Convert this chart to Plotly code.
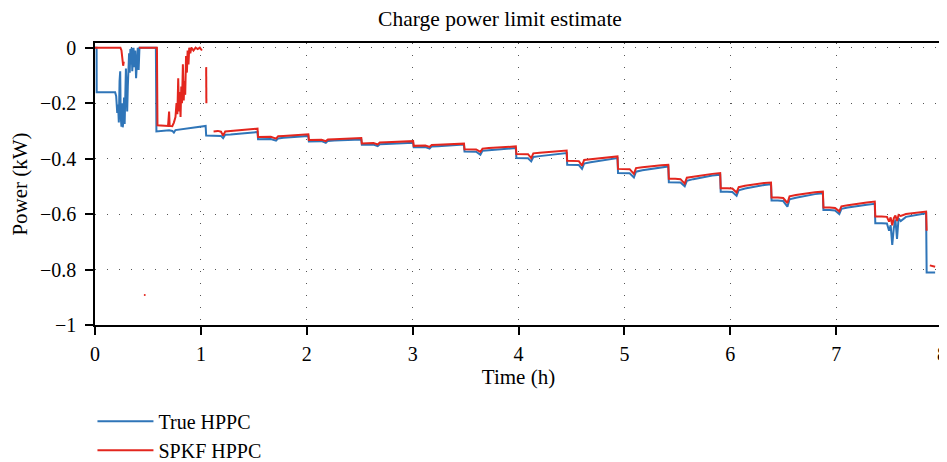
import plotly.graph_objects as go

# ---------------- data ----------------
time_true = [
    0.000, 0.015, 0.016, 0.190, 0.200, 0.210, 0.218, 0.225, 0.232, 0.238, 0.243, 0.250, 0.256, 0.262,
    0.268, 0.274, 0.280, 0.286, 0.292, 0.298, 0.304, 0.310, 0.316, 0.322, 0.328, 0.334, 0.340, 0.346,
    0.352, 0.358, 0.364, 0.372, 0.380, 0.388, 0.396, 0.404, 0.412, 0.420, 0.430, 0.575, 0.580,
    0.600, 0.650, 0.700, 0.730, 0.745, 0.760, 0.800, 0.850, 0.900, 0.950, 1.000, 1.045, 1.050,
    1.10, 1.16, 1.19, 1.21, 1.23, 1.28, 1.33, 1.38, 1.43, 1.48, 1.535, 1.54,
    1.60, 1.66, 1.71, 1.73, 1.78, 1.84, 1.90, 1.96, 2.015, 2.02,
    2.08, 2.14, 2.18, 2.20, 2.26, 2.33, 2.40, 2.46, 2.515, 2.52,
    2.58, 2.63, 2.67, 2.69, 2.75, 2.82, 2.89, 2.95, 3.005, 3.01,
    3.07, 3.12, 3.16, 3.18, 3.24, 3.30, 3.36, 3.42, 3.485, 3.49,
    3.55, 3.60, 3.64, 3.66, 3.72, 3.78, 3.84, 3.90, 3.975, 3.98,
    4.04, 4.09, 4.12, 4.14, 4.20, 4.26, 4.32, 4.38, 4.455, 4.46,
    4.52, 4.57, 4.60, 4.62, 4.68, 4.74, 4.80, 4.86, 4.935, 4.94,
    5.00, 5.05, 5.09, 5.11, 5.17, 5.23, 5.29, 5.35, 5.415, 5.42,
    5.48, 5.53, 5.57, 5.59, 5.65, 5.71, 5.77, 5.83, 5.905, 5.91,
    5.97, 6.02, 6.06, 6.08, 6.14, 6.20, 6.26, 6.32, 6.385, 6.39,
    6.45, 6.50, 6.54, 6.56, 6.62, 6.68, 6.74, 6.80, 6.875, 6.88,
    6.94, 6.99, 7.03, 7.05, 7.11, 7.17, 7.23, 7.29, 7.365, 7.37,
    7.43, 7.48, 7.50, 7.515, 7.53, 7.545, 7.56, 7.575, 7.59, 7.61, 7.66, 7.71, 7.76, 7.81, 7.85,
    7.855, 7.935,
]
power_true = [
    0.000, 0.000, -0.161, -0.161, -0.175, -0.235, -0.205, -0.270, -0.120, -0.085, -0.250, -0.285, -0.200, -0.287,
    -0.265, -0.180, -0.275, -0.110, -0.075, -0.160, -0.230, -0.140, -0.050, -0.020, -0.090, -0.005, -0.060, 0.000,
    -0.085, -0.030, 0.000, -0.070, -0.010, -0.110, -0.040, 0.000, -0.080, 0.000, 0.000, 0.000, -0.302,
    -0.301, -0.300, -0.298, -0.300, -0.306, -0.297, -0.295, -0.293, -0.290, -0.287, -0.285, -0.282, -0.317,
    -0.317, -0.316, -0.318, -0.326, -0.314, -0.313, -0.311, -0.309, -0.308, -0.306, -0.304, -0.330,
    -0.330, -0.329, -0.335, -0.327, -0.325, -0.323, -0.321, -0.319, -0.318, -0.338,
    -0.338, -0.337, -0.343, -0.336, -0.335, -0.334, -0.333, -0.332, -0.331, -0.350,
    -0.350, -0.349, -0.355, -0.348, -0.347, -0.346, -0.345, -0.344, -0.343, -0.359,
    -0.359, -0.358, -0.364, -0.356, -0.355, -0.353, -0.352, -0.350, -0.349, -0.374,
    -0.374, -0.375, -0.386, -0.372, -0.370, -0.368, -0.366, -0.364, -0.362, -0.398,
    -0.398, -0.399, -0.410, -0.394, -0.391, -0.388, -0.385, -0.383, -0.380, -0.422,
    -0.422, -0.423, -0.437, -0.418, -0.413, -0.409, -0.405, -0.402, -0.398, -0.452,
    -0.452, -0.453, -0.468, -0.447, -0.442, -0.438, -0.435, -0.431, -0.428, -0.485,
    -0.485, -0.486, -0.500, -0.480, -0.474, -0.469, -0.465, -0.461, -0.458, -0.519,
    -0.519, -0.520, -0.534, -0.514, -0.508, -0.503, -0.499, -0.495, -0.492, -0.551,
    -0.551, -0.553, -0.573, -0.547, -0.541, -0.536, -0.532, -0.528, -0.525, -0.585,
    -0.585, -0.587, -0.600, -0.581, -0.576, -0.572, -0.569, -0.566, -0.563, -0.633,
    -0.633, -0.634, -0.660, -0.640, -0.711, -0.650, -0.620, -0.690, -0.615, -0.625, -0.610, -0.606, -0.602, -0.599, -0.597,
    -0.811, -0.811,
]

time_spkf = [
    0.000, 0.240, 0.250, 0.258, 0.266, 0.272, 0.275, 0.415, 0.585,
    0.590, 0.640, 0.690, 0.700, 0.705, 0.730, 0.745, 0.760, 0.770, 0.778, 0.786, 0.793, 0.800, 0.808,
    0.815, 0.822, 0.830, 0.838, 0.845, 0.852, 0.860, 0.868, 0.875, 0.883, 0.890, 0.900, 0.910, 0.930,
    0.950, 0.970, 0.990, 1.010, 1.030, 1.050, 1.052, 1.060,
    1.12, 1.16, 1.19, 1.21, 1.23, 1.28, 1.33, 1.38, 1.43, 1.48, 1.535, 1.54,
    1.60, 1.66, 1.71, 1.73, 1.78, 1.84, 1.90, 1.96, 2.015, 2.02,
    2.08, 2.14, 2.18, 2.20, 2.26, 2.33, 2.40, 2.46, 2.515, 2.52,
    2.58, 2.63, 2.67, 2.69, 2.75, 2.82, 2.89, 2.95, 3.005, 3.01,
    3.07, 3.12, 3.16, 3.18, 3.24, 3.30, 3.36, 3.42, 3.485, 3.49,
    3.55, 3.60, 3.64, 3.66, 3.72, 3.78, 3.84, 3.90, 3.975, 3.98,
    4.04, 4.09, 4.12, 4.14, 4.20, 4.26, 4.32, 4.38, 4.455, 4.46,
    4.52, 4.57, 4.60, 4.62, 4.68, 4.74, 4.80, 4.86, 4.935, 4.94,
    5.00, 5.05, 5.09, 5.11, 5.17, 5.23, 5.29, 5.35, 5.415, 5.42,
    5.48, 5.53, 5.57, 5.59, 5.65, 5.71, 5.77, 5.83, 5.905, 5.91,
    5.97, 6.02, 6.06, 6.08, 6.14, 6.20, 6.26, 6.32, 6.385, 6.39,
    6.45, 6.50, 6.54, 6.56, 6.62, 6.68, 6.74, 6.80, 6.875, 6.88,
    6.94, 6.99, 7.03, 7.05, 7.11, 7.17, 7.23, 7.29, 7.365, 7.37,
    7.43, 7.48, 7.50, 7.515, 7.53, 7.545, 7.56, 7.575, 7.59, 7.61, 7.66, 7.71, 7.76, 7.81, 7.85,
    7.855, 7.860, 7.885, 7.91, 7.935,
]
power_spkf = [
    0.000, 0.000, -0.010, -0.035, -0.065, -0.050, None, 0.000, 0.000,
    -0.280, -0.281, -0.282, -0.230, -0.282, -0.283, -0.270, -0.250, -0.200, -0.240, -0.110, -0.230, -0.160, -0.250,
    -0.140, -0.200, -0.060, -0.190, -0.120, -0.170, -0.030, -0.090, -0.010, -0.060, 0.000, -0.020, 0.000, -0.010,
    0.000, -0.005, 0.000, -0.010, None, -0.070, -0.200, None,
    -0.302, -0.300, -0.303, -0.317, -0.302, -0.300, -0.298, -0.296, -0.295, -0.294, -0.292, -0.322,
    -0.322, -0.321, -0.328, -0.319, -0.318, -0.316, -0.315, -0.313, -0.312, -0.333,
    -0.333, -0.332, -0.337, -0.331, -0.330, -0.329, -0.328, -0.327, -0.326, -0.345,
    -0.345, -0.344, -0.349, -0.342, -0.341, -0.340, -0.339, -0.338, -0.337, -0.354,
    -0.354, -0.353, -0.358, -0.351, -0.350, -0.349, -0.348, -0.347, -0.346, -0.366,
    -0.366, -0.367, -0.376, -0.364, -0.362, -0.360, -0.359, -0.357, -0.356, -0.383,
    -0.383, -0.384, -0.398, -0.381, -0.379, -0.377, -0.375, -0.373, -0.371, -0.408,
    -0.408, -0.409, -0.425, -0.405, -0.402, -0.399, -0.397, -0.395, -0.392, -0.437,
    -0.437, -0.438, -0.455, -0.434, -0.431, -0.428, -0.426, -0.424, -0.422, -0.473,
    -0.473, -0.474, -0.490, -0.469, -0.465, -0.461, -0.458, -0.455, -0.452, -0.507,
    -0.507, -0.508, -0.522, -0.503, -0.498, -0.494, -0.491, -0.488, -0.486, -0.540,
    -0.540, -0.542, -0.560, -0.536, -0.531, -0.527, -0.524, -0.521, -0.519, -0.576,
    -0.576, -0.578, -0.590, -0.572, -0.568, -0.564, -0.561, -0.558, -0.555, -0.609,
    -0.609, -0.610, -0.627, -0.612, -0.640, -0.615, -0.605, -0.625, -0.603, -0.607, -0.600, -0.597, -0.595, -0.593, -0.591,
    -0.660, None, -0.785, -0.787, -0.790,
]

# isolated SPKF sample
outlier_time = [0.47]
outlier_power = [-0.892]

x_ticks = [0, 1, 2, 3, 4, 5, 6, 7, 8]
y_ticks = [0, -0.2, -0.4, -0.6, -0.8, -1]
y_tick_labels = ["0", "\u22120.2", "\u22120.4", "\u22120.6", "\u22120.8", "\u22121"]

# ---------------- figure ----------------
BLUE = "#2f75b8"
RED = "#e3261e"
FONT = "Liberation Serif"

# the page body has an 8px margin, so the figure is 8px smaller than the window
W, H = 939, 454

fig = go.Figure()
fig.add_trace(go.Scatter(x=time_true, y=power_true, mode="lines", name="True HPPC",
                         line=dict(color=BLUE, width=2), connectgaps=False))
fig.add_trace(go.Scatter(x=time_spkf, y=power_spkf, mode="lines", name="SPKF HPPC",
                         line=dict(color=RED, width=2), connectgaps=False))
fig.add_trace(go.Scatter(x=outlier_time, y=outlier_power, mode="markers", showlegend=False,
                         marker=dict(color=RED, size=2)))

axis_common = dict(
    showline=True, linecolor="black", linewidth=1.5, mirror=True,
    ticks="outside", ticklen=8, tickwidth=1.5, tickcolor="black",
    showgrid=True, gridcolor="#555555", gridwidth=1, griddash="1px,11px",
    zeroline=False, automargin=False,
    tickfont=dict(family=FONT, size=20, color="black"),
)

fig.update_layout(
    width=W, height=H,
    margin=dict(l=87, r=5, t=35, b=137, autoexpand=False),
    paper_bgcolor="white", plot_bgcolor="white",
    font=dict(family=FONT, size=20, color="black"),
    title=dict(text="Charge power limit estimate", x=492 / W, xanchor="center",
               y=1 - 10 / H, yanchor="middle", font=dict(family=FONT, size=21.5, color="black")),
    xaxis=dict(range=[0, 8], tickvals=x_ticks, ticktext=[str(v) for v in x_ticks],
               ticklabelstandoff=2,
               title=dict(text="Time (h)", font=dict(family=FONT, size=21), standoff=6),
               **axis_common),
    yaxis=dict(range=[-1, 0.017], tickvals=y_ticks, ticktext=y_tick_labels,
               ticklabelstandoff=5,
               title=dict(text="Power (kW)", font=dict(family=FONT, size=21), standoff=10),
               **axis_common),
    legend=dict(x=-0.003, xanchor="left", y=-0.272, yanchor="top", bgcolor="rgba(0,0,0,0)",
                font=dict(family=FONT, size=20, color="black"), itemwidth=56,
                tracegroupgap=0),
    showlegend=True,
)

fig.write_html("out.html")
